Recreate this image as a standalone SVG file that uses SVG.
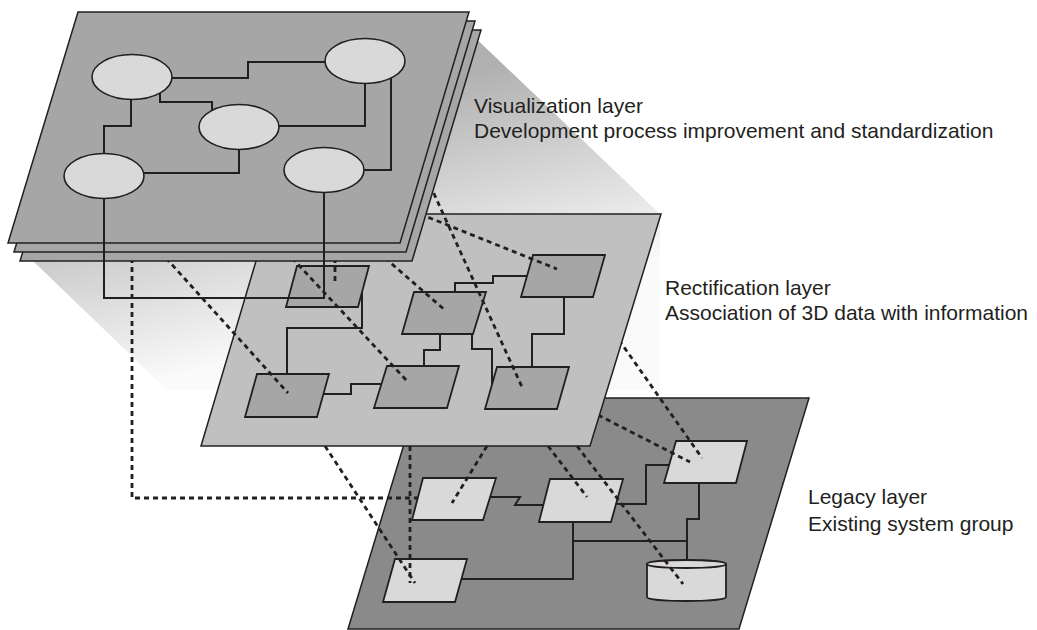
<svg xmlns="http://www.w3.org/2000/svg" width="1037" height="630" viewBox="0 0 1037 630">
<defs>
<linearGradient id="shadowGrad" gradientUnits="userSpaceOnUse" x1="470" y1="70" x2="525" y2="290">
<stop offset="0" stop-color="#b0b0b0"/>
<stop offset="1" stop-color="#fafafa"/>
</linearGradient>
<style>
.plate{stroke:#231f20;stroke-width:1.5;stroke-linejoin:miter}
.top{fill:#a6a6a6}
.mid{fill:#c0c0c0}
.leg{fill:#8a8a8a}
.node{fill:#d9d9d9;stroke:#231f20;stroke-width:1.6}
.mnode{fill:#a6a6a6;stroke:#231f20;stroke-width:1.8}
.lnode{fill:#d9d9d9;stroke:#231f20;stroke-width:1.8}
.wire{fill:none;stroke:#231f20;stroke-width:2}
.dash{fill:none;stroke:#231f20;stroke-width:2.8;stroke-dasharray:5 4}
.lbl{font-family:"Liberation Sans",Arial,sans-serif;font-size:21px;fill:#231f20}
</style>
</defs>
<rect width="1037" height="630" fill="#ffffff"/>
<polygon id="shadow" points="466,29 660,214 660,390 167,390 33,261" fill="url(#shadowGrad)"/>

<g id="legacy-layer">
<polygon class="plate leg" points="418,398 809,398 739,629 348,629"/>
<g id="legacy-connectors">
<path class="wire" d="M490,497 H520 L515,505 H543"/>
<path class="wire" d="M617,504 H646 V465 H670"/>
<path class="wire" d="M699,483 V519 H687 V560"/>
<path class="wire" d="M573,522 V579 H462"/>
<path class="wire" d="M573,541 H687"/>
</g>
<g id="legacy-node-1"><polygon class="lnode" points="423,478 496,478 483,520 412,520"/></g>
<g id="legacy-node-2"><polygon class="lnode" points="550,479 623,479 611,522 539,522"/></g>
<g id="legacy-node-3"><polygon class="lnode" points="676,441 747,441 736,483 664,483"/></g>
<g id="legacy-node-4"><polygon class="lnode" points="395,559 467,559 455,602 383,602"/></g>
<g id="legacy-db">
<path class="lnode" d="M647,564 V597 A39.5,4 0 0 0 726,597 V564 Z"/>
<ellipse class="lnode" cx="686.5" cy="564" rx="39.5" ry="4"/>
</g>
</g>

<g id="connectors-mid-to-legacy">
<path class="dash" d="M325,446 L415,583"/>
<path class="dash" d="M410,446 V583"/>
<path class="dash" d="M487,446 L452,503"/>
<path class="dash" d="M548,446 L587,497"/>
<path class="dash" d="M577,446 L683,584"/>
<path class="dash" d="M598,415 L690,462"/>
<path class="dash" d="M619,340 L702,458"/>
</g>

<g id="rectification-layer">
<polygon class="plate mid" points="270,214 661,214 590,446 201,446"/>
<g id="mid-connectors">
<path class="wire" d="M362,292 V328 H287 V374"/>
<path class="wire" d="M323,394 H351 V384 H382"/>
<path class="wire" d="M424,366 V350 H440 V334"/>
<path class="wire" d="M455,292 V283 H493 V276 H527"/>
<path class="wire" d="M472,334 V349 H492 V385"/>
<path class="wire" d="M564,297 V334 H532 V367"/>
</g>
<g id="mid-node-1"><polygon class="mnode" points="297,266 369,266 358,307 286,307"/></g>
<g id="mid-node-2"><polygon class="mnode" points="414,292 486,292 473,334 402,334"/></g>
<g id="mid-node-3"><polygon class="mnode" points="533,255 605,255 593,297 521,297"/></g>
<g id="mid-node-4"><polygon class="mnode" points="257,374 329,374 317,417 245,417"/></g>
<g id="mid-node-5"><polygon class="mnode" points="387,366 459,366 447,408 374,408"/></g>
<g id="mid-node-6"><polygon class="mnode" points="497,367 569,367 557,409 485,409"/></g>
</g>

<g id="connectors-top-to-mid">
<path class="dash" d="M132,258 V498 H418"/>
<path class="dash" d="M166,258 L288,393"/>
<path class="dash" d="M292,258 L408,382"/>
<path class="dash" d="M335,258 V281"/>
<path class="dash" d="M385,258 L446,311"/>
<path class="dash" d="M430,185 L522,387"/>
<path class="dash" d="M420,214 L557,269"/>
</g>

<g id="visualization-layer">
<polygon class="plate top" points="90,30 481,30 412,261 20,261"/>
<polygon class="plate top" points="84,21 475,21 406,252 14,252"/>
<polygon class="plate top" points="78,12 469,12 400,243 8,243"/>
<g id="top-connectors">
<path class="wire" d="M172,78 H248 V62 H325"/>
<path class="wire" d="M160,93 V102 H212 V111"/>
<path class="wire" d="M131,99 V126 H104 V154"/>
<path class="wire" d="M279,126 H365 V83"/>
<path class="wire" d="M239,149 V173 H144"/>
<path class="wire" d="M391,78 V170 H364"/>
<path class="wire" d="M104,197 V298 H325"/>
<path class="wire" d="M324,192 V298"/>
</g>
<g id="top-node-1"><ellipse class="node" cx="132" cy="77" rx="40" ry="22.5"/></g>
<g id="top-node-2"><ellipse class="node" cx="365" cy="61" rx="40" ry="22.5"/></g>
<g id="top-node-3"><ellipse class="node" cx="239" cy="127" rx="40" ry="22.5"/></g>
<g id="top-node-4"><ellipse class="node" cx="104" cy="176" rx="40" ry="22.5"/></g>
<g id="top-node-5"><ellipse class="node" cx="324" cy="170" rx="40" ry="22.5"/></g>
</g>

<g id="labels">
<text class="lbl" x="474" y="113">Visualization layer</text>
<text class="lbl" x="474" y="138">Development process improvement and standardization</text>
<text class="lbl" x="665" y="295">Rectification layer</text>
<text class="lbl" x="665" y="320">Association of 3D data with information</text>
<text class="lbl" x="808" y="504">Legacy layer</text>
<text class="lbl" x="808" y="531">Existing system group</text>
</g>
</svg>
